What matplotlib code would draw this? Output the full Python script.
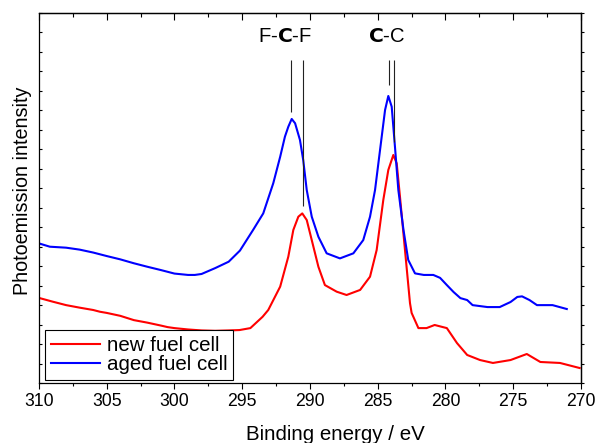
import matplotlib
matplotlib.use("Agg")
import matplotlib.pyplot as plt
from matplotlib.ticker import MultipleLocator, NullFormatter

plt.rcParams['font.family'] = ['Liberation Sans', 'DejaVu Sans']

# data (binding energy in eV, intensity in tick units)
new_ev = [310.0, 309.0, 308.0, 307.0, 306.0, 305.5, 305.0, 304.0, 303.0, 302.0,
          301.0, 300.5, 300.0, 299.0, 298.0, 297.0, 296.0, 295.2, 294.4, 293.5,
          293.08, 292.2, 291.6, 291.23, 290.86, 290.57, 290.24, 289.87, 289.38, 288.9,
          288.03, 287.3, 286.3, 285.57, 285.08, 284.59, 284.22, 283.85, 283.6, 283.36,
          282.99, 282.62, 282.5, 282.0, 281.4, 280.8, 279.9, 279.15, 278.4, 277.45,
          276.5, 275.2, 274.0, 273.0, 271.55, 270.1]
new_int = [4.37, 4.18, 4.0, 3.87, 3.75, 3.66, 3.6, 3.45, 3.23, 3.1,
           2.95, 2.87, 2.82, 2.75, 2.7, 2.68, 2.7, 2.72, 2.82, 3.4,
           3.75, 4.95, 6.49, 7.86, 8.54, 8.71, 8.37, 7.34, 5.97, 5.03,
           4.69, 4.52, 4.78, 5.46, 6.83, 9.4, 10.94, 11.71, 11.28, 9.57,
           6.83, 4.1, 3.6, 2.82, 2.82, 2.98, 2.82, 2.05, 1.44, 1.18,
           1.03, 1.18, 1.49, 1.08, 1.03, 0.77]

aged_ev = [310.0, 309.2, 308.0, 307.0, 306.0, 305.0, 304.0, 303.0, 302.0, 301.0,
           300.0, 299.0, 298.5, 298.0, 297.0, 296.0, 295.17, 294.2, 293.45, 292.71,
           292.2, 291.85, 291.6, 291.35, 291.1, 290.74, 290.5, 290.24, 289.87, 289.38,
           288.77, 287.79, 286.8, 286.07, 285.57, 285.2, 284.83, 284.46, 284.22, 283.97,
           283.73, 283.48, 283.1, 282.75, 282.25, 281.6, 280.9, 280.4, 279.9, 279.4,
           278.9, 278.4, 278.0, 276.9, 276.0, 275.2, 274.7, 274.35, 273.8, 273.25,
           272.1, 271.05]
aged_int = [7.17, 7.0, 6.95, 6.85, 6.7, 6.52, 6.35, 6.15, 5.97, 5.8,
            5.62, 5.55, 5.55, 5.6, 5.9, 6.23, 6.8, 7.86, 8.71, 10.26,
            11.62, 12.65, 13.16, 13.56, 13.34, 12.48, 11.45, 9.91, 8.54, 7.51,
            6.66, 6.4, 6.66, 7.34, 8.54, 9.91, 11.97, 14.02, 14.74, 14.19,
            12.14, 9.91, 7.86, 6.32, 5.63, 5.55, 5.55, 5.4, 5.03, 4.67,
            4.36, 4.26, 4.0, 3.9, 3.9, 4.16, 4.42, 4.45, 4.26, 4.0,
            4.0, 3.8]

# peak markers: position, lower end of the line
marker_ev = [291.4, 290.5, 284.17, 283.8]
marker_bottom = [13.9, 9.1, 15.3, 12.4]
marker_top = 16.6
peak_labels = ["F-$\\mathbf{C}$-F", "$\\mathbf{C}$-C"]
peak_label_ev = [291.8, 284.35]

fig = plt.figure(figsize=(5.97, 4.43), dpi=100)
ax = fig.add_axes([0.0653, 0.1354, 0.9079, 0.8352])

ax.plot(new_ev, new_int, color='#ff0000', lw=1.5, label='new fuel cell')
ax.plot(aged_ev, aged_int, color='#0000ff', lw=1.5, label='aged fuel cell')

ax.vlines(marker_ev, marker_bottom, marker_top, color='#222222', lw=0.8)
for lab, xe in zip(peak_labels, peak_label_ev):
    ax.text(xe, 17.8, lab, ha='center', va='center', fontsize=14.6,
            math_fontfamily='custom')

ax.set_xlim(310, 270)
ax.set_ylim(0, 19)

ax.xaxis.set_major_locator(MultipleLocator(5))
ax.xaxis.set_minor_locator(MultipleLocator(2.5))
ax.yaxis.set_major_locator(MultipleLocator(1))
ax.yaxis.set_major_formatter(NullFormatter())
ax.tick_params(axis='x', which='major', direction='out', length=4, width=0.8,
               pad=3, labelsize=12.7, top=False)
ax.tick_params(axis='x', which='minor', direction='out', length=2.2, width=0.8,
               top=False)
ax.tick_params(axis='y', which='major', direction='in', length=2.2, width=0.8,
               right=False)

top = ax.secondary_xaxis('top')
top.xaxis.set_major_locator(MultipleLocator(5))
top.xaxis.set_minor_locator(MultipleLocator(2.5))
top.tick_params(which='major', direction='in', length=5, width=0.8, labeltop=False)
top.tick_params(which='minor', direction='in', length=3, width=0.8)

right = ax.secondary_yaxis('right')
right.yaxis.set_major_locator(MultipleLocator(1))
right.tick_params(direction='out', length=2.2, width=0.8, labelright=False)

for a in (ax, top, right):
    for s in a.spines.values():
        s.set_linewidth(0.9)

ax.set_xlabel('Binding energy / eV', fontsize=14.8)
ax.xaxis.set_label_coords(0.546, -0.113)
ax.set_ylabel('Photoemission intensity', fontsize=14.2)
ax.yaxis.set_label_coords(-0.013, 0.52)

leg = ax.legend(loc='lower left', bbox_to_anchor=(0.011, 0.008), borderaxespad=0,
                fontsize=14.8, frameon=True, fancybox=False, edgecolor='black',
                framealpha=1, handlelength=2.4, handletextpad=0.3,
                labelspacing=0.0, borderpad=0.3)
leg.get_frame().set_linewidth(0.8)

fig.savefig('out.png', dpi=100)
